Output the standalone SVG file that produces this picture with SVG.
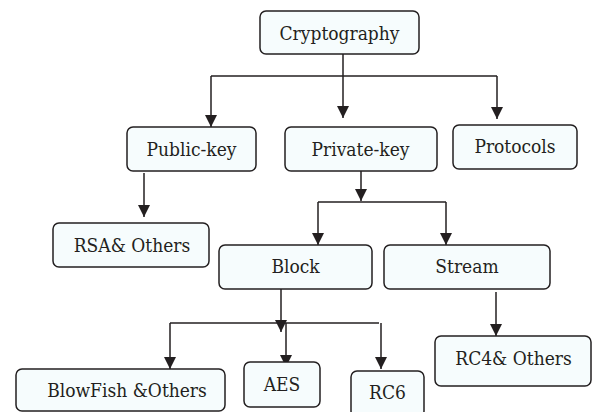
<svg xmlns="http://www.w3.org/2000/svg" width="592" height="412" viewBox="0 0 592 412">
<defs>
<style>
.box{fill:#f6fcfd;stroke:#231f20;stroke-width:1.5}
.t{font-family:'DejaVu Serif Condensed','DejaVu Serif',serif;font-stretch:condensed;font-size:19px;fill:#231f20;text-anchor:middle}
.c{fill:none;stroke:#231f20;stroke-width:1.5}
</style>
<marker id="ah" viewBox="0 0 12 12" refX="12" refY="6" markerWidth="12" markerHeight="12" markerUnits="userSpaceOnUse" orient="auto">
<path d="M0,0 L12,6 L0,12 z" fill="#231f20"/>
</marker>
</defs>
<rect width="592" height="412" fill="#ffffff"/>
<g id="connectors">
<path class="c" d="M343,54 V118" marker-end="url(#ah)"/>
<path class="c" d="M211,76 H497"/>
<path class="c" d="M211,76 V127" marker-end="url(#ah)"/>
<path class="c" d="M497,76 V119" marker-end="url(#ah)"/>
<path class="c" d="M144,173 V217" marker-end="url(#ah)"/>
<path class="c" d="M361,171 V201" marker-end="url(#ah)"/>
<path class="c" d="M318,202 H446"/>
<path class="c" d="M318,202 V245" marker-end="url(#ah)"/>
<path class="c" d="M446,202 V245" marker-end="url(#ah)"/>
<path class="c" d="M281,289 V332" marker-end="url(#ah)"/>
<path class="c" d="M170,323 H379"/>
<path class="c" d="M170,323 V369" marker-end="url(#ah)"/>
<path class="c" d="M286,323 V367" stroke-width="2.5" marker-end="url(#ah)"/>
<path class="c" d="M381,323 V369" marker-end="url(#ah)"/>
<path class="c" d="M496,292 V336" marker-end="url(#ah)"/>
</g>
<g id="cryptography"><rect class="box" x="260" y="11" width="159" height="43" rx="6"/><text class="t" x="339.5" y="40">Cryptography</text></g>
<g id="public-key"><rect class="box" x="127" y="127" width="129" height="44" rx="6"/><text class="t" x="191.5" y="156">Public-key</text></g>
<g id="private-key"><rect class="box" x="285" y="127" width="152" height="44" rx="6"/><text class="t" x="360.5" y="156">Private-key</text></g>
<g id="protocols"><rect class="box" x="453" y="125" width="124" height="44" rx="6"/><text class="t" x="515" y="153">Protocols</text></g>
<g id="rsa"><rect class="box" x="53" y="223" width="156" height="44" rx="6"/><text class="t" x="132" y="252">RSA&amp; Others</text></g>
<g id="block"><rect class="box" x="219" y="245" width="153" height="44" rx="6"/><text class="t" x="295.5" y="273">Block</text></g>
<g id="stream"><rect class="box" x="384" y="245" width="166" height="44" rx="6"/><text class="t" x="467" y="273">Stream</text></g>
<g id="rc4"><rect class="box" x="435" y="336" width="156" height="50" rx="6"/><text class="t" x="513.5" y="365">RC4&amp; Others</text></g>
<g id="blowfish"><rect class="box" x="16" y="369" width="209" height="42" rx="6"/><text class="t" x="127" y="397">BlowFish &amp;Others</text></g>
<g id="aes"><rect class="box" x="244" y="362" width="76" height="45" rx="6"/><text class="t" x="282" y="391">AES</text></g>
<g id="rc6"><rect class="box" x="351" y="371" width="73" height="46" rx="6"/><text class="t" x="387.5" y="399">RC6</text></g>
</svg>
